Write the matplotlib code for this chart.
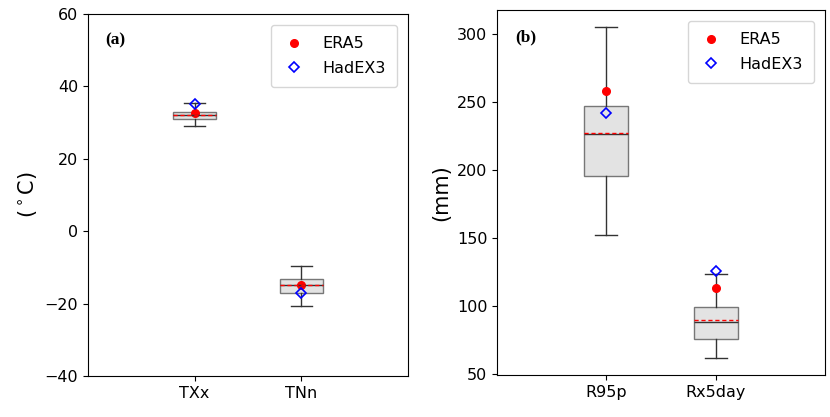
import matplotlib
matplotlib.use('Agg')
import matplotlib.pyplot as plt

# panel (a): temperature indices
labels_a = ['TXx', 'TNn']
whislo_a = [29.1, -20.7]
q1_a = [31.1, -17.0]
med_a = [32.1, -14.8]
mean_a = [32.1, -14.8]
q3_a = [33.0, -13.3]
whishi_a = [35.4, -9.7]
era5_a = [32.7, -14.8]
hadex3_a = [35.1, -17.0]

# panel (b): precipitation indices
labels_b = ['R95p', 'Rx5day']
whislo_b = [152.3, 61.5]
q1_b = [195.7, 75.6]
med_b = [226.4, 88.2]
mean_b = [226.8, 90.0]
q3_b = [246.9, 99.0]
whishi_b = [305.1, 123.6]
era5_b = [257.8, 112.9]
hadex3_b = [241.3, 125.5]


def make_stats(labels, whislo, q1, med, mean, q3, whishi):
    stats = []
    for i in range(len(labels)):
        stats.append({'label': labels[i], 'whislo': whislo[i], 'q1': q1[i], 'med': med[i],
                      'mean': mean[i], 'q3': q3[i], 'whishi': whishi[i], 'fliers': []})
    return stats


def draw_panel(ax, stats, era5, hadex3, tag, ylabel):
    pos = list(range(1, len(stats) + 1))
    ax.bxp(stats, positions=pos, widths=0.4, patch_artist=True, showmeans=True, meanline=True,
           boxprops=dict(facecolor='#e3e3e3', edgecolor='#777777', linewidth=1),
           whiskerprops=dict(color='#333333', linewidth=1),
           capprops=dict(color='#333333', linewidth=1),
           medianprops=dict(color='#333333', linewidth=1),
           meanprops=dict(color='red', linestyle=(0, (3, 2)), linewidth=1))
    ax.plot(pos, era5, 'o', color='red', markersize=5.5, linestyle='none', label='ERA5')
    ax.plot(pos, hadex3, 'D', markerfacecolor='none', markeredgecolor='blue', markeredgewidth=1.2,
            markersize=5.5, linestyle='none', label='HadEX3')
    ax.set_xlim(0, 3)
    ax.set_xticks(pos)
    ax.set_xticklabels([s['label'] for s in stats])
    ax.tick_params(labelsize=11.5)
    ax.set_ylabel(ylabel, fontsize=15)
    ax.text(0.055, 0.915, tag, transform=ax.transAxes, fontsize=12.5, fontweight='bold',
            family='Liberation Serif')
    ax.legend(loc='upper right', fontsize=11.5, borderpad=0.7, borderaxespad=0.7, numpoints=1,
              handlelength=1.4, handletextpad=1.1, labelspacing=0.6)


fig = plt.figure(figsize=(8.3, 4.17), dpi=100)
ax1 = fig.add_axes([88 / 830, 41 / 417, 320 / 830, 362 / 417])
ax2 = fig.add_axes([497 / 830, 42 / 417, 328 / 830, 365 / 417])

draw_panel(ax1, make_stats(labels_a, whislo_a, q1_a, med_a, mean_a, q3_a, whishi_a),
           era5_a, hadex3_a, '(a)', r'($^\circ$C)')
ax1.set_ylim(-40, 60)

draw_panel(ax2, make_stats(labels_b, whislo_b, q1_b, med_b, mean_b, q3_b, whishi_b),
           era5_b, hadex3_b, '(b)', '(mm)')

fig.savefig('out.png', dpi=100)
